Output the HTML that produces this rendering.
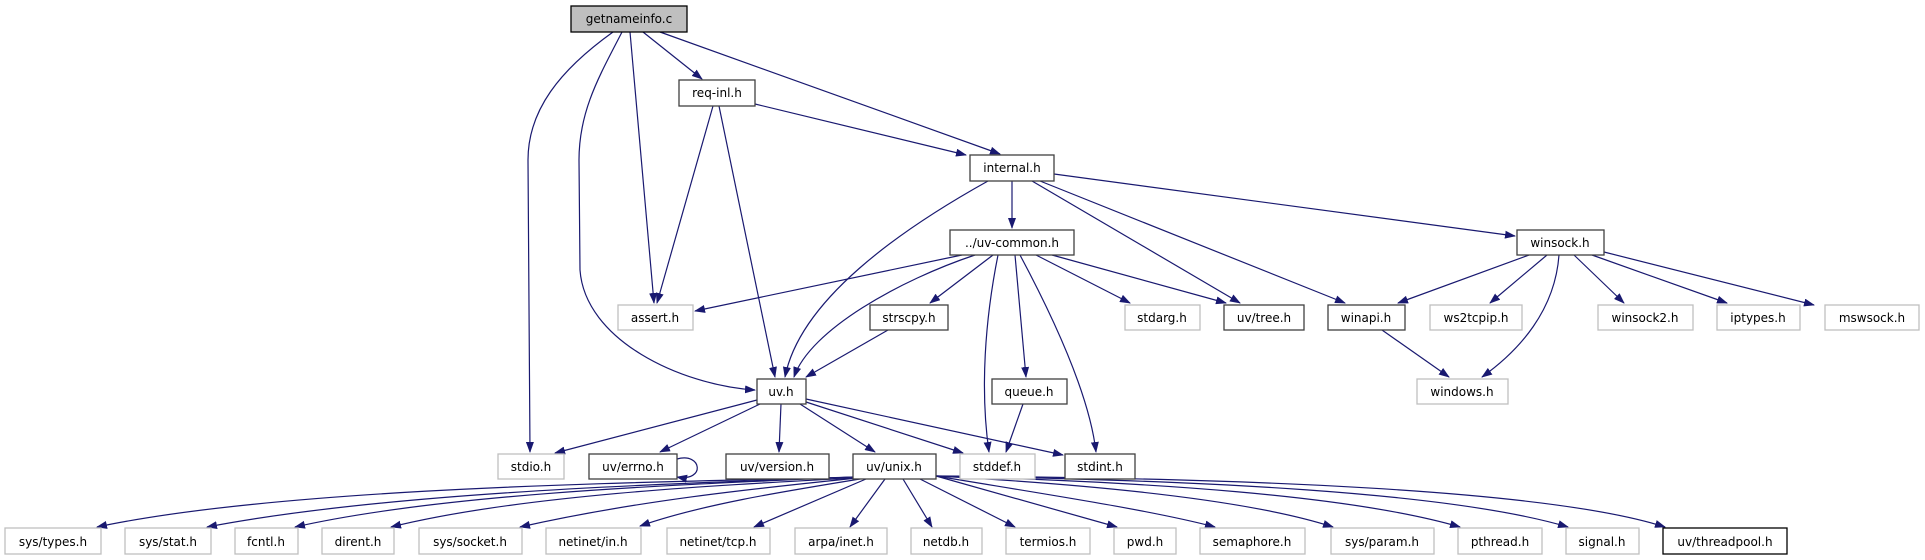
<!DOCTYPE html>
<html><head><meta charset="utf-8"><style>
html,body{margin:0;padding:0;background:#fff;}
svg{display:block;}
text{font-family:"DejaVu Sans","Liberation Sans",sans-serif;font-size:12px;fill:#000;text-anchor:middle;}
.e{fill:none;stroke:#191970;stroke-width:1.2;marker-end:url(#a);}
.n{fill:#fff;stroke:#404040;stroke-width:1.3;}
.g{fill:#fff;stroke:#bfbfbf;stroke-width:1.3;}
</style></head><body>
<svg width="1925" height="560" viewBox="0 0 1925 560" xmlns="http://www.w3.org/2000/svg">
<defs><marker id="a" markerWidth="11" markerHeight="8" refX="10" refY="4" orient="auto" markerUnits="userSpaceOnUse"><path d="M0,0 L11,4 L0,8 z" fill="#191970"/></marker></defs>

<!-- edges from getnameinfo.c -->
<path class="e" d="M613 32 C560 70 528 110 528 160 L530 452"/>
<path class="e" d="M622 32 C600 75 579 110 579 160 L580 270 C585 340 680 385 755 390"/>
<path class="e" d="M630 32 L654 303"/>
<path class="e" d="M643 32 L702 79"/>
<path class="e" d="M660 32 L1000 154"/>
<!-- req-inl.h -->
<path class="e" d="M713 106 L657 303"/>
<path class="e" d="M719 106 L775 377"/>
<path class="e" d="M755 104 L966 155"/>
<!-- internal.h -->
<path class="e" d="M1012 181 L1012 228"/>
<path class="e" d="M988 181 C900 230 800 300 785 377"/>
<path class="e" d="M1032 181 L1240 303"/>
<path class="e" d="M1040 181 L1345 303"/>
<path class="e" d="M1054 174 L1515 236"/>
<!-- uv-common.h -->
<path class="e" d="M962 255 L695 311"/>
<path class="e" d="M975 255 C900 280 810 330 794 377"/>
<path class="e" d="M993 255 L930 303"/>
<path class="e" d="M998 255 C985 320 980 390 989 452"/>
<path class="e" d="M1015 255 L1026 377"/>
<path class="e" d="M1020 255 C1060 330 1090 400 1096 452"/>
<path class="e" d="M1036 255 L1130 303"/>
<path class="e" d="M1052 255 L1226 303"/>
<!-- strscpy, queue -->
<path class="e" d="M888 330 L806 377"/>
<path class="e" d="M1023 404 L1006 452"/>
<!-- winsock.h -->
<path class="e" d="M1529 255 L1398 303"/>
<path class="e" d="M1547 255 L1490 303"/>
<path class="e" d="M1559 255 C1555 310 1520 350 1482 377"/>
<path class="e" d="M1574 255 L1624 303"/>
<path class="e" d="M1592 255 L1727 303"/>
<path class="e" d="M1604 252 L1814 305"/>
<path class="e" d="M1382 330 L1449 377"/>
<!-- uv.h -->
<path class="e" d="M757 400 L555 453"/>
<path class="e" d="M760 404 L660 452"/>
<path class="e" d="M781 404 L779 452"/>
<path class="e" d="M800 404 L875 452"/>
<path class="e" d="M806 402 L963 453"/>
<path class="e" d="M806 399 L1063 455"/>
<path class="e" d="M677 459 C702 452 706 482 677 477"/>
<!-- uv/unix.h to bottom row -->
<path class="e" d="M855 477 C700 482 300 484 97 527"/>
<path class="e" d="M855 477 C700 483 400 490 207 527"/>
<path class="e" d="M855 477 C700 484 450 492 295 527"/>
<path class="e" d="M855 478 C720 485 520 495 391 527"/>
<path class="e" d="M857 478 C760 488 640 500 520 527"/>
<path class="e" d="M860 479 C780 492 700 505 640 526"/>
<path class="e" d="M866 479 L754 527"/>
<path class="e" d="M885 479 L850 527"/>
<path class="e" d="M903 479 L932 527"/>
<path class="e" d="M920 479 L1015 527"/>
<path class="e" d="M936 476 L1117 527"/>
<path class="e" d="M936 476 C1050 495 1150 510 1215 527"/>
<path class="e" d="M936 476 C1100 485 1250 500 1333 527"/>
<path class="e" d="M936 476 C1150 482 1350 495 1460 527"/>
<path class="e" d="M936 476 C1200 480 1450 492 1568 527"/>
<path class="e" d="M936 476 C1250 478 1550 490 1665 527"/>

<!-- nodes -->
<rect x="571" y="6" width="116" height="26" fill="#bfbfbf" stroke="#000" stroke-width="1.3"/><text x="629" y="23">getnameinfo.c</text>
<rect class="n" x="679" y="80" width="76" height="26"/><text x="717" y="97">req-inl.h</text>
<rect class="n" x="970" y="155" width="84" height="26"/><text x="1012" y="172">internal.h</text>
<rect class="n" x="950" y="230" width="124" height="25"/><text x="1012" y="247">../uv-common.h</text>
<rect class="n" x="1517" y="230" width="87" height="25"/><text x="1560" y="247">winsock.h</text>

<rect class="g" x="618" y="305" width="75" height="25"/><text x="655" y="322">assert.h</text>
<rect class="n" x="870" y="305" width="78" height="25"/><text x="909" y="322">strscpy.h</text>
<rect class="g" x="1125" y="305" width="75" height="25"/><text x="1162" y="322">stdarg.h</text>
<rect class="n" x="1224" y="305" width="80" height="25"/><text x="1264" y="322">uv/tree.h</text>
<rect class="n" x="1328" y="305" width="77" height="25"/><text x="1366" y="322">winapi.h</text>
<rect class="g" x="1430" y="305" width="92" height="25"/><text x="1476" y="322">ws2tcpip.h</text>
<rect class="g" x="1598" y="305" width="95" height="25"/><text x="1645" y="322">winsock2.h</text>
<rect class="g" x="1717" y="305" width="83" height="25"/><text x="1758" y="322">iptypes.h</text>
<rect class="g" x="1825" y="305" width="94" height="25"/><text x="1872" y="322">mswsock.h</text>

<rect class="n" x="757" y="379" width="49" height="25"/><text x="781" y="396">uv.h</text>
<rect class="n" x="992" y="379" width="75" height="25"/><text x="1029" y="396">queue.h</text>
<rect class="g" x="1417" y="379" width="91" height="25"/><text x="1462" y="396">windows.h</text>

<rect class="g" x="498" y="454" width="66" height="25"/><text x="531" y="471">stdio.h</text>
<rect class="n" x="589" y="454" width="88" height="25"/><text x="633" y="471">uv/errno.h</text>
<rect class="n" x="726" y="454" width="103" height="25"/><text x="777" y="471">uv/version.h</text>
<rect class="n" x="853" y="454" width="83" height="25"/><text x="894" y="471">uv/unix.h</text>
<rect class="g" x="960" y="454" width="75" height="25"/><text x="997" y="471">stddef.h</text>
<rect class="n" x="1065" y="454" width="70" height="25"/><text x="1100" y="471">stdint.h</text>

<rect class="g" x="5" y="528" width="96" height="26"/><text x="53" y="546">sys/types.h</text>
<rect class="g" x="125" y="528" width="86" height="26"/><text x="168" y="546">sys/stat.h</text>
<rect class="g" x="235" y="528" width="63" height="26"/><text x="266" y="546">fcntl.h</text>
<rect class="g" x="322" y="528" width="72" height="26"/><text x="358" y="546">dirent.h</text>
<rect class="g" x="419" y="528" width="103" height="26"/><text x="470" y="546">sys/socket.h</text>
<rect class="g" x="546" y="528" width="95" height="26"/><text x="593" y="546">netinet/in.h</text>
<rect class="g" x="667" y="528" width="103" height="26"/><text x="718" y="546">netinet/tcp.h</text>
<rect class="g" x="795" y="528" width="92" height="26"/><text x="841" y="546">arpa/inet.h</text>
<rect class="g" x="911" y="528" width="71" height="26"/><text x="946" y="546">netdb.h</text>
<rect class="g" x="1006" y="528" width="84" height="26"/><text x="1048" y="546">termios.h</text>
<rect class="g" x="1114" y="528" width="62" height="26"/><text x="1145" y="546">pwd.h</text>
<rect class="g" x="1200" y="528" width="105" height="26"/><text x="1252" y="546">semaphore.h</text>
<rect class="g" x="1331" y="528" width="103" height="26"/><text x="1382" y="546">sys/param.h</text>
<rect class="g" x="1458" y="528" width="84" height="26"/><text x="1500" y="546">pthread.h</text>
<rect class="g" x="1566" y="528" width="73" height="26"/><text x="1602" y="546">signal.h</text>
<rect class="n" x="1663" y="528" width="124" height="26" style="stroke:#000"/><text x="1725" y="546">uv/threadpool.h</text>
</svg>
</body></html>
